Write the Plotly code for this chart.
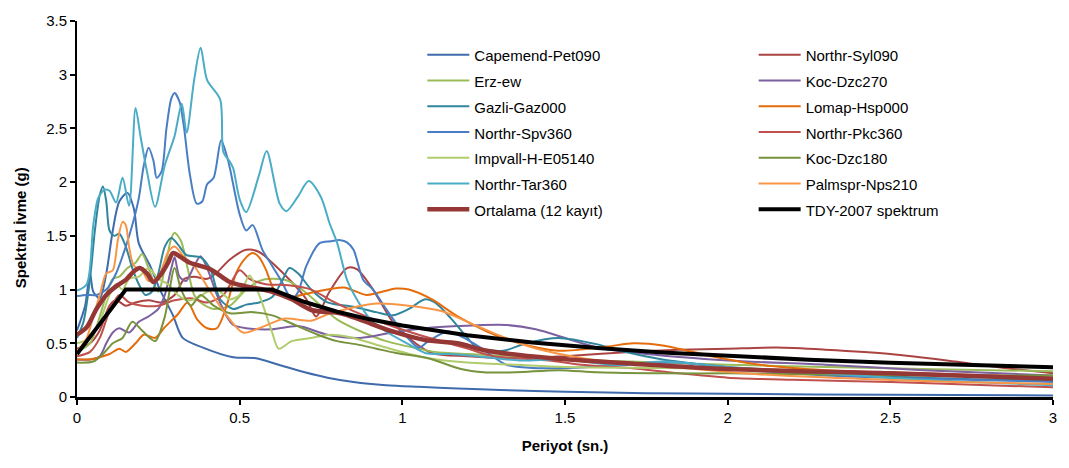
import plotly.graph_objects as go

# Period (s) / spectral acceleration (g) knots for each ground-motion record
capemend_T = [0, 0.025, 0.04, 0.05, 0.07, 0.09, 0.11, 0.13, 0.155, 0.175, 0.19, 0.225, 0.255, 0.295, 0.325, 0.387, 0.48, 0.55, 0.62, 0.7, 0.77, 0.85, 0.95, 1.05, 1.17, 1.3, 1.5, 1.75, 2.0, 2.5, 3.0]
capemend_S = [0.62, 0.85, 1.15, 0.98, 0.92, 1.15, 1.55, 1.82, 1.9, 1.75, 1.43, 1.22, 1.0, 0.76, 0.55, 0.46, 0.37, 0.36, 0.30, 0.23, 0.18, 0.14, 0.11, 0.095, 0.08, 0.065, 0.05, 0.035, 0.03, 0.02, 0.015]

syl090_T = [0, 0.04, 0.07, 0.1, 0.12, 0.15, 0.18, 0.22, 0.26, 0.3, 0.33, 0.36, 0.4, 0.43, 0.47, 0.52, 0.56, 0.6, 0.66, 0.705, 0.735, 0.776, 0.83, 0.86, 0.91, 0.97, 1.02, 1.09, 1.2, 1.35, 1.5, 1.7, 1.85, 2.0, 2.15, 2.3, 2.5, 2.7, 2.85, 3.0]
syl090_S = [0.45, 0.5, 0.62, 0.85, 0.9, 0.85, 0.88, 0.9, 0.88, 0.95, 1.1, 1.12, 1.1, 1.16, 1.28, 1.37, 1.35, 1.25, 1.07, 0.91, 0.75, 0.98, 1.2, 1.19, 1.0, 0.7, 0.55, 0.41, 0.38, 0.36, 0.38, 0.42, 0.44, 0.45, 0.46, 0.44, 0.4, 0.33, 0.27, 0.22]

erz_T = [0, 0.04, 0.07, 0.09, 0.11, 0.13, 0.155, 0.18, 0.2, 0.22, 0.25, 0.27, 0.29, 0.3, 0.32, 0.34, 0.36, 0.38, 0.42, 0.47, 0.52, 0.56, 0.6, 0.65, 0.7, 0.75, 0.8, 0.88, 0.95, 1.05, 1.1, 1.2, 1.35, 1.5, 1.7, 2.0, 2.3, 2.6, 3.0]
erz_S = [0.42, 0.5, 0.75, 0.95, 1.1, 1.12, 1.2, 1.25, 1.33, 1.2, 0.98, 1.2, 1.48, 1.53, 1.45, 1.2, 0.95, 0.88, 0.82, 0.85, 1.0, 1.08, 1.1, 1.08, 0.98, 0.85, 0.72, 0.6, 0.52, 0.45, 0.42, 0.4, 0.38, 0.35, 0.33, 0.3, 0.28, 0.26, 0.24]

dzc270_T = [0, 0.04, 0.07, 0.09, 0.11, 0.13, 0.16, 0.19, 0.22, 0.25, 0.27, 0.29, 0.3, 0.315, 0.335, 0.36, 0.38, 0.4, 0.43, 0.46, 0.48, 0.52, 0.6, 0.68, 0.77, 0.87, 0.97, 1.07, 1.17, 1.32, 1.41, 1.51, 1.6, 1.75, 2.0, 2.3, 2.6, 3.0]
dzc270_S = [0.35, 0.35, 0.38, 0.5, 0.6, 0.64, 0.6, 0.7, 0.75, 0.82, 0.95, 1.2, 1.3, 1.12, 1.08, 1.22, 1.31, 1.2, 0.95, 0.75, 0.67, 0.64, 0.63, 0.66, 0.58, 0.55, 0.6, 0.64, 0.66, 0.67, 0.63, 0.54, 0.46, 0.4, 0.34, 0.3, 0.25, 0.2]

gazli_T = [0, 0.02, 0.04, 0.055, 0.07, 0.08, 0.09, 0.1, 0.115, 0.13, 0.15, 0.17, 0.19, 0.21, 0.23, 0.25, 0.27, 0.29, 0.31, 0.337, 0.38, 0.41, 0.44, 0.48, 0.52, 0.56, 0.6, 0.63, 0.653, 0.68, 0.72, 0.77, 0.85, 0.92, 0.97, 1.02, 1.07, 1.1, 1.15, 1.2, 1.23, 1.31, 1.38, 1.48, 1.6, 1.67, 1.8, 2.0, 2.3, 2.6, 3.0]
gazli_S = [0.55, 0.7, 1.1, 1.55, 1.88, 1.96, 1.82, 1.55, 1.5, 1.52, 1.4, 1.2, 1.05, 0.95, 0.98, 1.15, 1.4, 1.48, 1.42, 1.32, 1.3, 1.19, 0.91, 0.82, 0.86, 0.88, 0.93, 1.08, 1.2, 1.15, 1.0, 0.88, 0.84, 0.79, 0.76, 0.82, 0.91, 0.88, 0.73, 0.55, 0.46, 0.43, 0.5, 0.55, 0.49, 0.43, 0.35, 0.28, 0.22, 0.18, 0.15]

lomap_T = [0, 0.04, 0.07, 0.1, 0.13, 0.15, 0.18, 0.205, 0.24, 0.27, 0.31, 0.34, 0.37, 0.4, 0.43, 0.46, 0.49, 0.52, 0.54, 0.56, 0.58, 0.61, 0.65, 0.72, 0.82, 0.89, 0.98, 1.02, 1.09, 1.17, 1.26, 1.36, 1.48, 1.63, 1.71, 1.8, 1.95, 2.1, 2.3, 2.6, 3.0]
lomap_S = [0.35, 0.35, 0.37, 0.4, 0.45, 0.42, 0.5, 0.58, 0.55, 0.65, 0.77, 0.88, 0.72, 0.64, 0.64, 0.85, 1.16, 1.3, 1.34, 1.3, 1.19, 0.98, 0.93, 0.97, 1.02, 0.95, 1.01, 1.0, 0.91, 0.75, 0.61, 0.5, 0.43, 0.47, 0.5, 0.48, 0.38, 0.3, 0.25, 0.22, 0.18]

spv360_T = [0, 0.03, 0.06, 0.09, 0.12, 0.15, 0.17, 0.19, 0.205, 0.22, 0.235, 0.245, 0.26, 0.275, 0.29, 0.3, 0.315, 0.328, 0.347, 0.368, 0.385, 0.4, 0.42, 0.443, 0.46, 0.47, 0.5, 0.52, 0.54, 0.57, 0.6, 0.63, 0.66, 0.68, 0.705, 0.745, 0.78, 0.81, 0.83, 0.85, 0.88, 0.91, 0.95, 1.0, 1.05, 1.08, 1.14, 1.19, 1.24, 1.32, 1.4, 1.5, 1.7, 1.85, 2.0, 2.3, 2.6, 3.0]
spv360_S = [0.94, 0.95, 0.95, 1.0, 1.15, 1.4, 1.6, 1.85, 2.15, 2.32, 2.2, 2.04, 2.1, 2.5, 2.78, 2.83, 2.75, 2.53, 2.07, 1.8, 1.82, 1.98, 2.04, 2.39, 2.25, 2.13, 1.7, 1.55, 1.6, 1.37, 1.22, 1.07, 0.91, 0.98, 1.22, 1.43, 1.45, 1.46, 1.44, 1.37, 1.09, 1.0, 0.82, 0.61, 0.46, 0.52, 0.61, 0.55, 0.46, 0.3, 0.27, 0.27, 0.3, 0.32, 0.27, 0.2, 0.17, 0.14]

pkc360_T = [0, 0.04, 0.07, 0.1, 0.13, 0.16, 0.2, 0.25, 0.3, 0.35, 0.4, 0.45, 0.5, 0.53, 0.58, 0.65, 0.72, 0.78, 0.85, 0.95, 1.05, 1.12, 1.2, 1.28, 1.35, 1.45, 1.55, 1.7, 1.85, 2.0, 2.2, 2.5, 2.8, 3.0]
pkc360_S = [0.38, 0.42, 0.55, 0.8, 0.95, 0.88, 0.85, 0.85, 0.9, 0.92, 0.88, 0.95, 1.18, 1.1, 1.05, 1.04, 1.0, 0.9, 0.8, 0.68, 0.58, 0.52, 0.45, 0.38, 0.36, 0.34, 0.3, 0.27, 0.22, 0.18, 0.16, 0.14, 0.11, 0.09]

impvall_T = [0, 0.04, 0.07, 0.1, 0.12, 0.14, 0.16, 0.19, 0.22, 0.25, 0.28, 0.31, 0.34, 0.37, 0.4, 0.43, 0.47, 0.5, 0.53, 0.56, 0.6, 0.62, 0.66, 0.72, 0.78, 0.85, 0.95, 1.08, 1.2, 1.35, 1.5, 1.8, 2.1, 2.5, 3.0]
impvall_S = [0.5, 0.55, 0.7, 0.95, 1.05, 1.0, 1.1, 1.12, 1.2, 1.1, 1.05, 0.95, 0.9, 0.92, 0.98, 1.0, 0.91, 0.95, 1.13, 0.95, 0.6, 0.45, 0.52, 0.55, 0.58, 0.55, 0.46, 0.36, 0.32, 0.3, 0.28, 0.27, 0.26, 0.22, 0.18]

dzc180_T = [0, 0.05, 0.08, 0.11, 0.14, 0.17, 0.2, 0.24, 0.27, 0.3, 0.32, 0.35, 0.38, 0.42, 0.47, 0.54, 0.6, 0.67, 0.74, 0.8, 0.86, 0.92, 0.98, 1.08, 1.18, 1.25, 1.35, 1.48, 1.6, 1.8, 2.0, 2.3, 2.6, 3.0]
dzc180_S = [0.32, 0.33, 0.4, 0.5, 0.55, 0.7, 0.62, 0.52, 0.75, 1.2, 1.0, 0.85, 0.95, 0.85, 0.78, 0.79, 0.76, 0.67, 0.58, 0.52, 0.49, 0.45, 0.41, 0.36, 0.26, 0.23, 0.23, 0.25, 0.23, 0.22, 0.22, 0.21, 0.2, 0.2]

tar360_T = [0, 0.03, 0.05, 0.065, 0.085, 0.1, 0.12, 0.14, 0.16, 0.18, 0.195, 0.215, 0.24, 0.27, 0.3, 0.322, 0.337, 0.36, 0.38, 0.4, 0.44, 0.45, 0.47, 0.48, 0.5, 0.52, 0.56, 0.583, 0.623, 0.644, 0.678, 0.712, 0.75, 0.776, 0.8, 0.83, 0.86, 0.9, 0.95, 1.02, 1.07, 1.15, 1.26, 1.36, 1.5, 1.65, 1.8, 2.0, 2.3, 2.6, 3.0]
tar360_S = [0.99, 1.05, 1.6, 1.85, 1.93, 1.92, 1.81, 2.04, 1.78, 2.69, 2.43, 2.1, 1.77, 2.16, 2.43, 2.73, 2.46, 2.95, 3.25, 2.95, 2.77, 2.28, 2.19, 2.13, 1.84, 1.72, 2.07, 2.29, 1.8, 1.73, 1.86, 2.01, 1.86, 1.62, 1.43, 1.09, 0.91, 0.73, 0.61, 0.49, 0.41, 0.4, 0.37, 0.34, 0.35, 0.3, 0.33, 0.28, 0.22, 0.16, 0.11]

palmspr_T = [0, 0.03, 0.05, 0.07, 0.09, 0.11, 0.125, 0.14, 0.15, 0.16, 0.175, 0.2, 0.22, 0.25, 0.28, 0.3, 0.33, 0.36, 0.41, 0.46, 0.51, 0.56, 0.64, 0.72, 0.77, 0.83, 0.92, 1.02, 1.12, 1.2, 1.3, 1.4, 1.5, 1.6, 1.7, 1.9, 2.1, 2.4, 2.7, 3.0]
palmspr_S = [0.42, 0.55, 0.75, 0.95, 1.15, 1.18, 1.45, 1.63, 1.6, 1.4, 1.22, 1.18, 1.08, 1.12, 1.35, 1.4, 1.3, 1.22, 0.98, 0.76, 0.6, 0.64, 0.73, 0.71, 0.77, 0.82, 0.87, 0.85, 0.8, 0.7, 0.57, 0.46, 0.39, 0.34, 0.32, 0.26, 0.21, 0.17, 0.14, 0.12]

# Mean of the 12 records
mean_T = [0, 0.03, 0.06, 0.09, 0.12, 0.15, 0.175, 0.193, 0.215, 0.235, 0.26, 0.28, 0.295, 0.32, 0.347, 0.41, 0.47, 0.52, 0.6, 0.66, 0.72, 0.81, 0.87, 0.97, 1.07, 1.17, 1.26, 1.46, 1.71, 2.0, 2.5, 3.0]
mean_S = [0.58, 0.65, 0.82, 0.95, 1.03, 1.09, 1.17, 1.2, 1.15, 1.07, 1.15, 1.25, 1.34, 1.3, 1.25, 1.19, 1.07, 1.03, 0.98, 0.91, 0.81, 0.78, 0.72, 0.61, 0.53, 0.5, 0.43, 0.36, 0.31, 0.26, 0.22, 0.17]

# TDY-2007 design spectrum
tdy_T = [0, 0.15, 0.6, 0.7, 0.8, 0.9, 1.0, 1.2, 1.4, 1.6, 1.8, 2.0, 2.25, 2.5, 2.75, 3.0]
tdy_S = [0.4, 1.0, 1.0, 0.884, 0.794, 0.723, 0.665, 0.574, 0.508, 0.456, 0.415, 0.381, 0.347, 0.319, 0.296, 0.276]

# (name, periods, values, colour, width, legend column)
records = [
    ("Capemend-Pet090", capemend_T, capemend_S, "#3F6BAD", 2, "legend"),
    ("Northr-Syl090", syl090_T, syl090_S, "#A94442", 2, "legend2"),
    ("Erz-ew", erz_T, erz_S, "#9BBB59", 2, "legend"),
    ("Koc-Dzc270", dzc270_T, dzc270_S, "#7D60A0", 2, "legend2"),
    ("Gazli-Gaz000", gazli_T, gazli_S, "#31859C", 2, "legend"),
    ("Lomap-Hsp000", lomap_T, lomap_S, "#E46C0A", 2, "legend2"),
    ("Northr-Spv360", spv360_T, spv360_S, "#4A7EC4", 2, "legend"),
    ("Northr-Pkc360", pkc360_T, pkc360_S, "#C0504D", 2, "legend2"),
    ("Impvall-H-E05140", impvall_T, impvall_S, "#B0CC6C", 2, "legend"),
    ("Koc-Dzc180", dzc180_T, dzc180_S, "#77933C", 2, "legend2"),
    ("Northr-Tar360", tar360_T, tar360_S, "#4BACC6", 2, "legend"),
    ("Palmspr-Nps210", palmspr_T, palmspr_S, "#F79646", 2, "legend2"),
    ("Ortalama (12 kayıt)", mean_T, mean_S, "#953735", 4.5, "legend"),
    ("TDY-2007 spektrum", tdy_T, tdy_S, "#000000", 4, "legend2"),
]

fig = go.Figure()
for name, T, S, color, width, leg in records:
    shape = "linear" if name.startswith("TDY") else "spline"
    fig.add_trace(go.Scatter(
        x=T, y=S, mode="lines", name=f'<span style="font-size:15px">{name}</span>',
        line=dict(color=color, width=width, shape=shape, smoothing=0.8),
        legend=leg,
    ))

font_family = "Arial, Liberation Sans, sans-serif"
legend_style = dict(
    orientation="v", yanchor="top", xanchor="left", itemwidth=42,
    font=dict(family=font_family, size=17.5, color="#000000"),
    bgcolor="rgba(0,0,0,0)", traceorder="normal",
)
fig.update_layout(
    width=1069, height=468,
    margin=dict(l=77, r=14, t=13, b=71),
    paper_bgcolor="white", plot_bgcolor="white",
    font=dict(family=font_family, size=15, color="#000000"),
    showlegend=True,
    legend=dict(x=0.3538, y=0.958, **legend_style),
    legend2=dict(x=0.6933, y=0.958, **legend_style),
    xaxis=dict(
        range=[0, 3], dtick=0.5, tick0=0, showgrid=False, zeroline=False,
        showline=True, linecolor="#000000", linewidth=2.5,
        ticks="outside", ticklen=5, tickcolor="#000000", tickwidth=1.5,
        tickfont=dict(size=15),
        title=dict(text="<b>Periyot (sn.)</b>", font=dict(size=15), standoff=16),
    ),
    yaxis=dict(
        range=[0, 3.5], dtick=0.5, tick0=0, showgrid=False, zeroline=False,
        showline=True, linecolor="#000000", linewidth=2,
        ticks="outside", ticklen=5, tickcolor="#000000", tickwidth=1.5,
        tickfont=dict(size=15),
    ),
    annotations=[dict(
        text="<b>Spektral İvme (g)</b>", textangle=-90, showarrow=False,
        xref="paper", yref="paper", x=-0.058, y=0.45,
        xanchor="center", yanchor="middle", font=dict(size=15),
    )],
)

fig.write_html("out.html")
